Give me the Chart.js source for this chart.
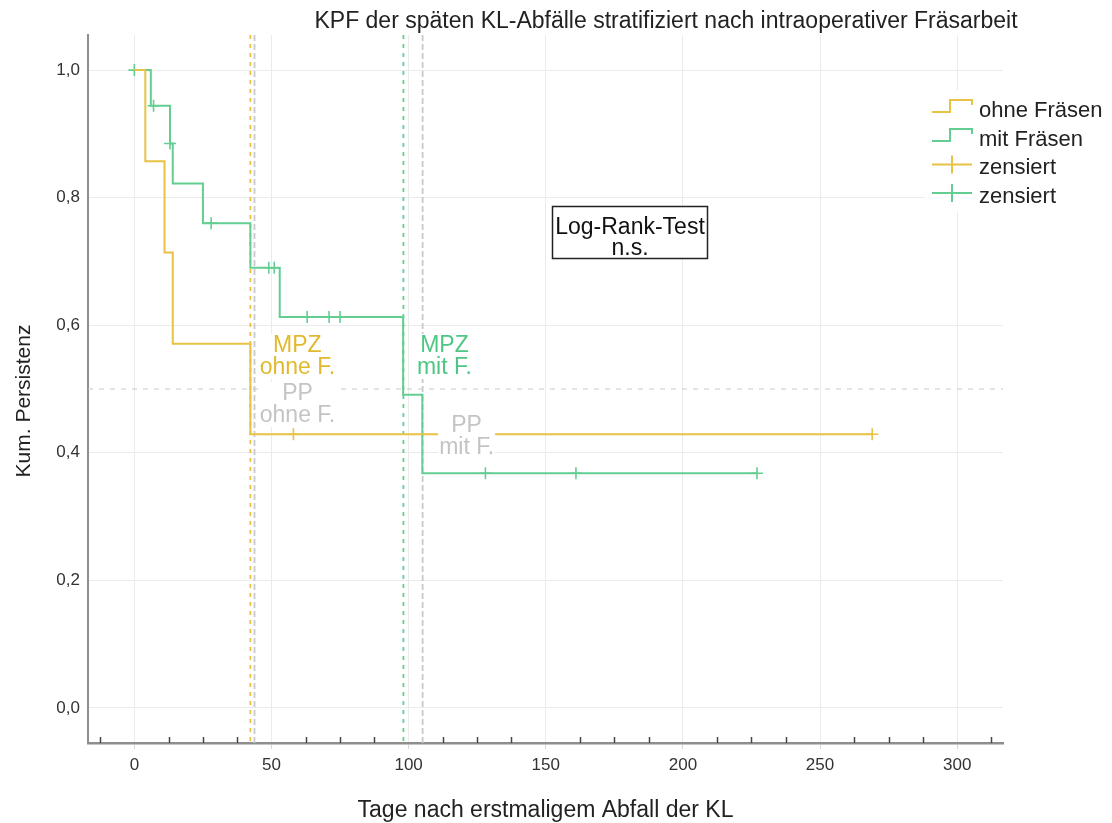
<!DOCTYPE html>
<html><head><meta charset="utf-8">
<script src="https://cdn.jsdelivr.net/npm/chart.js@4/dist/chart.umd.min.js"></script>
<style>html,body{margin:0;padding:0;background:#fff;}#wrap{position:relative;width:1112px;height:823px;}</style>
</head><body><div id="wrap"><canvas id="c" width="1112" height="823"></canvas></div>
<script>
// ---- texts ----
const chartTitle = "KPF der späten KL-Abfälle stratifiziert nach intraoperativer Fräsarbeit";
const xTitle = "Tage nach erstmaligem Abfall der KL";
const yTitle = "Kum. Persistenz";
const seriesNames = ["ohne Fräsen", "mit Fräsen"];
const censorName = "zensiert";
const testLines = ["Log-Rank-Test", "n.s."];
const labelMpzOhne = ["MPZ", "ohne F."];
const labelPpOhne = ["PP", "ohne F."];
const labelMpzMit = ["MPZ", "mit F."];
const labelPpMit = ["PP", "mit F."];
// ---- ticks ----
const xTickValues = [0, 50, 100, 150, 200, 250, 300];
const xMinorTicks = [-12.5, 12.5, 25, 37.5, 62.5, 75, 87.5, 112.5, 125, 137.5, 162.5, 175, 187.5, 212.5, 225, 237.5, 262.5, 275, 287.5, 312.5];
const yTickValues = [0, 0.2, 0.4, 0.6, 0.8, 1.0];
// ---- series: ohne Fräsen ----
const ohneTimes = [0, 4, 11, 14, 42.3, 269];
const ohneSurv = [1, 0.857, 0.714, 0.571, 0.429, 0.429];
const ohneCensTimes = [58, 269];
const ohneCensSurv = [0.429, 0.429];
// ---- series: mit Fräsen ----
const mitTimes = [0, 6, 13, 14, 25, 42.3, 53, 98, 105, 227];
const mitSurv = [1, 0.944, 0.885, 0.822, 0.760, 0.690, 0.613, 0.491, 0.368, 0.368];
const mitCensTimes = [0, 7, 13, 28, 49, 51, 63, 71, 75, 128, 161, 227];
const mitCensSurv = [1, 0.944, 0.885, 0.760, 0.690, 0.690, 0.613, 0.613, 0.613, 0.368, 0.368, 0.368];
// ---- reference values ----
const mpzOhne = 42.3, ppOhne = 43.8, mpzMit = 98.1, ppMit = 105.1;
const halfLevel = 0.5;

const YEL = '#E7C245', GRN = '#63CE91', GREY = '#C9C9C9';
const YEL_T = '#E2B92E', GRN_T = '#4FC784', GREY_T = '#C4C4C4';
const FONT = "'Liberation Sans', Arial, sans-serif";

const toPts = (xs, ys) => xs.map((x, i) => ({x: x, y: ys[i]}));

const extras = {
  id: 'extras',
  beforeDatasetsDraw(chart) {
    const {ctx, chartArea: a, scales: {x, y}} = chart;
    ctx.save();
    ctx.strokeStyle = '#444'; ctx.lineWidth = 1.5;
    xMinorTicks.forEach(v => {
      const px = Math.round(x.getPixelForValue(v)) + 0.5;
      ctx.beginPath(); ctx.moveTo(px, a.bottom - 6); ctx.lineTo(px, a.bottom); ctx.stroke();
    });
    const vline = (v, color, dash, w) => {
      const px = x.getPixelForValue(v);
      ctx.strokeStyle = color; ctx.lineWidth = w; ctx.setLineDash(dash);
      ctx.beginPath(); ctx.moveTo(px, a.top); ctx.lineTo(px, a.bottom); ctx.stroke();
    };
    const py = y.getPixelForValue(halfLevel);
    ctx.strokeStyle = GREY; ctx.lineWidth = 1.2; ctx.setLineDash([5, 6]);
    ctx.beginPath(); ctx.moveTo(a.left, py); ctx.lineTo(a.right, py); ctx.stroke();
    vline(ppOhne, GREY, [6, 3], 1.8);
    vline(ppMit, GREY, [6, 3], 1.8);
    vline(mpzOhne, YEL, [4, 5], 1.8);
    vline(mpzMit, GRN, [4, 5], 1.8);
    ctx.restore();
  },
  afterDatasetsDraw(chart) {
    const {ctx, chartArea: a} = chart;
    const x = chart.scales.x;
    ctx.save();
    ctx.font = '23px ' + FONT;
    ctx.textAlign = 'center'; ctx.textBaseline = 'alphabetic';
    const label = (lines, cx, base, color) => {
      const w = Math.max(...lines.map(l => ctx.measureText(l).width));
      ctx.fillStyle = '#fff';
      ctx.fillRect(cx - w / 2 - 1, base - 18, w + 2, 22 * (lines.length - 1) + 23);
      ctx.fillStyle = color;
      lines.forEach((l, i) => ctx.fillText(l, cx, base + i * 22));
    };
    label(labelMpzOhne, x.getPixelForValue(mpzOhne) + 47, 352, YEL_T);
    label(labelPpOhne, x.getPixelForValue(ppOhne) + 43, 400, GREY_T);
    label(labelMpzMit, x.getPixelForValue(mpzMit) + 41, 352, GRN_T);
    label(labelPpMit, x.getPixelForValue(ppMit) + 44, 432, GREY_T);

    // Log-rank box
    ctx.fillStyle = '#fff'; ctx.fillRect(552, 206, 156, 52);
    ctx.strokeStyle = '#222'; ctx.lineWidth = 1.5; ctx.strokeRect(552.5, 206.5, 155, 52);
    ctx.fillStyle = '#111'; ctx.font = '23px ' + FONT;
    ctx.fillText(testLines[0], 630, 234);
    ctx.fillText(testLines[1], 630, 255);

    // legend
    ctx.fillStyle = '#fff'; ctx.fillRect(925, 90, 187, 122);
    ctx.font = '22px ' + FONT; ctx.textAlign = 'left';
    const bases = [116.5, 145.5, 174, 202.5];
    const cols = [YEL, GRN, YEL, GRN];
    const names = [seriesNames[0], seriesNames[1], censorName, censorName];
    bases.forEach((b, i) => {
      ctx.strokeStyle = cols[i]; ctx.lineWidth = 2; ctx.setLineDash([]);
      ctx.beginPath();
      if (i < 2) {
        ctx.moveTo(932, b - 4.5); ctx.lineTo(950, b - 4.5); ctx.lineTo(950, b - 16.5);
        ctx.lineTo(972, b - 16.5); ctx.lineTo(972, b - 11.5);
      } else {
        ctx.moveTo(932, b - 9.5); ctx.lineTo(972, b - 9.5);
        ctx.moveTo(952, b - 18.5); ctx.lineTo(952, b - 0.5);
      }
      ctx.stroke();
      ctx.fillStyle = '#222';
      ctx.fillText(names[i], 979, b);
    });

    // titles
    ctx.fillStyle = '#222'; ctx.textAlign = 'center';
    ctx.font = '23px ' + FONT;
    ctx.fillText(chartTitle, 666, 28);
    ctx.fillText(xTitle, (a.left + a.right) / 2, 816.5);
    ctx.save();
    ctx.translate(30, 401); ctx.rotate(-Math.PI / 2);
    ctx.font = '21px ' + FONT;
    ctx.fillText(yTitle, 0, 0);
    ctx.restore();
    ctx.restore();
  }
};

const kmLine = (xs, ys, color) => ({
  data: toPts(xs, ys), showLine: true, stepped: 'before', borderColor: color,
  borderWidth: 2, pointRadius: 0, fill: false
});
const censor = (xs, ys, color) => ({
  data: toPts(xs, ys), showLine: false, pointStyle: 'cross', pointRadius: 6,
  borderColor: color, backgroundColor: color, borderWidth: 1.6, pointHoverRadius: 6
});

new Chart(document.getElementById('c'), {
  type: 'scatter',
  data: {
    datasets: [
      kmLine(ohneTimes, ohneSurv, YEL),
      kmLine(mitTimes, mitSurv, GRN),
      censor(ohneCensTimes, ohneCensSurv, YEL),
      censor(mitCensTimes, mitCensSurv, GRN)
    ]
  },
  options: {
    responsive: false, animation: false, devicePixelRatio: 1,
    layout: {padding: {top: 35, right: 109, left: 0, bottom: 0}},
    plugins: {legend: {display: false}, title: {display: false}, tooltip: {enabled: false}},
    scales: {
      x: {
        type: 'linear', min: -16.9, max: 316.7,
        afterFit: s => { s.height = 80; },
        afterBuildTicks: s => { s.ticks = xTickValues.map(v => ({value: v})); },
        grid: {color: '#EBEBEB', lineWidth: 1, drawTicks: true, tickLength: 6, tickColor: '#D8D8D8'},
        border: {color: '#8E8E8E', width: 2.5},
        ticks: {font: {family: FONT, size: 17}, color: '#333', padding: 6, maxRotation: 0}
      },
      y: {
        type: 'linear', min: -0.055, max: 1.055,
        afterFit: s => { s.width = 88; },
        afterBuildTicks: s => { s.ticks = yTickValues.map(v => ({value: v})); },
        grid: {color: '#EBEBEB', lineWidth: 1, drawTicks: false},
        border: {color: '#8E8E8E', width: 2},
        ticks: {font: {family: FONT, size: 17}, color: '#333', padding: 8,
          callback: v => v.toFixed(1).replace('.', ',')}
      }
    }
  },
  plugins: [extras]
});
</script></body></html>
